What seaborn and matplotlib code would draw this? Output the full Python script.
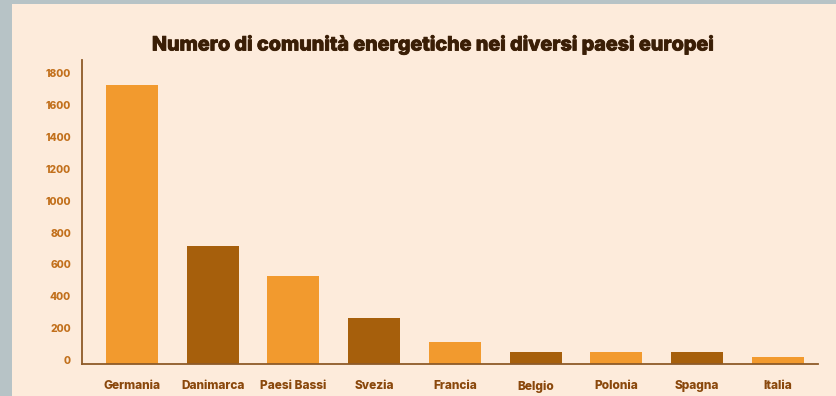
import matplotlib
matplotlib.use("Agg")
import matplotlib.pyplot as plt
import matplotlib.patches as mpatches
import matplotlib.patheffects as pe
from matplotlib.transforms import ScaledTranslation
import seaborn as sns
import pandas as pd

categories = ["Germania", "Danimarca", "Paesi Bassi", "Svezia", "Francia",
              "Belgio", "Polonia", "Spagna", "Italia"]
values = [1750, 740, 550, 285, 135, 72, 72, 72, 40]
yticks = [0, 200, 400, 600, 800, 1000, 1200, 1400, 1600, 1800]
title = "Numero di comunità energetiche nei diversi paesi europei"

light = "#F29A2E"
dark = "#A65F0C"
palette = [light if i % 2 == 0 else dark for i in range(len(categories))]

sns.set_theme(style="white")
plt.rcParams["font.family"] = ["Inter", "DejaVu Sans"]

W, H = 836, 396
fig = plt.figure(figsize=(W / 100, H / 100), dpi=100)
fig.patch.set_facecolor("#B7C3C6")
# cream panel
panel = mpatches.Rectangle((12 / W, 0), 1 - 12 / W, 1 - 4 / H,
                           transform=fig.transFigure,
                           facecolor="#FDEBDB", edgecolor="none", zorder=-5)
fig.patches.append(panel)

ax = fig.add_axes([82 / W, 1 - 363.5 / H, (818 - 82) / W, (363.5 - 60) / H])
ax.set_facecolor("none")
ax.set_zorder(2)

df = pd.DataFrame({"pays": categories, "n": values})
sns.barplot(data=df, x="pays", y="n", hue="pays", palette=palette,
            legend=False, width=0.644, saturation=1, linewidth=0, ax=ax)

ax.set_xlim(-0.62, 8.5)
ax.set_ylim(0, 1906)
ax.set_yticks(yticks)
ax.set_yticklabels([str(v) for v in yticks])
ax.set_xlabel("")
ax.set_ylabel("")

for s in ["top", "right"]:
    ax.spines[s].set_visible(False)
for s in ["left", "bottom"]:
    ax.spines[s].set_color("#8E5A28")
    ax.spines[s].set_linewidth(1.3)

ax.tick_params(axis="y", length=0, pad=8, labelsize=7.4, labelcolor="#C2701C")
ax.tick_params(axis="x", length=0, pad=12, labelsize=8.6, labelcolor="#8A480C")
shift = ScaledTranslation(0, 3.5 / 100, fig.dpi_scale_trans)
for lab in ax.get_yticklabels():
    lab.set_fontweight("heavy")
    lab.set_transform(lab.get_transform() + shift)
for lab in ax.get_xticklabels():
    lab.set_fontweight("heavy")

fig.text(433 / W, 1 - 45 / H, title, ha="center", va="center",
         fontsize=14.2, fontweight="heavy", color="#3A1E06", zorder=3,
         path_effects=[pe.withStroke(linewidth=0.6, foreground="#3A1E06")])

fig.savefig("out.png", dpi=100, facecolor=fig.get_facecolor())
